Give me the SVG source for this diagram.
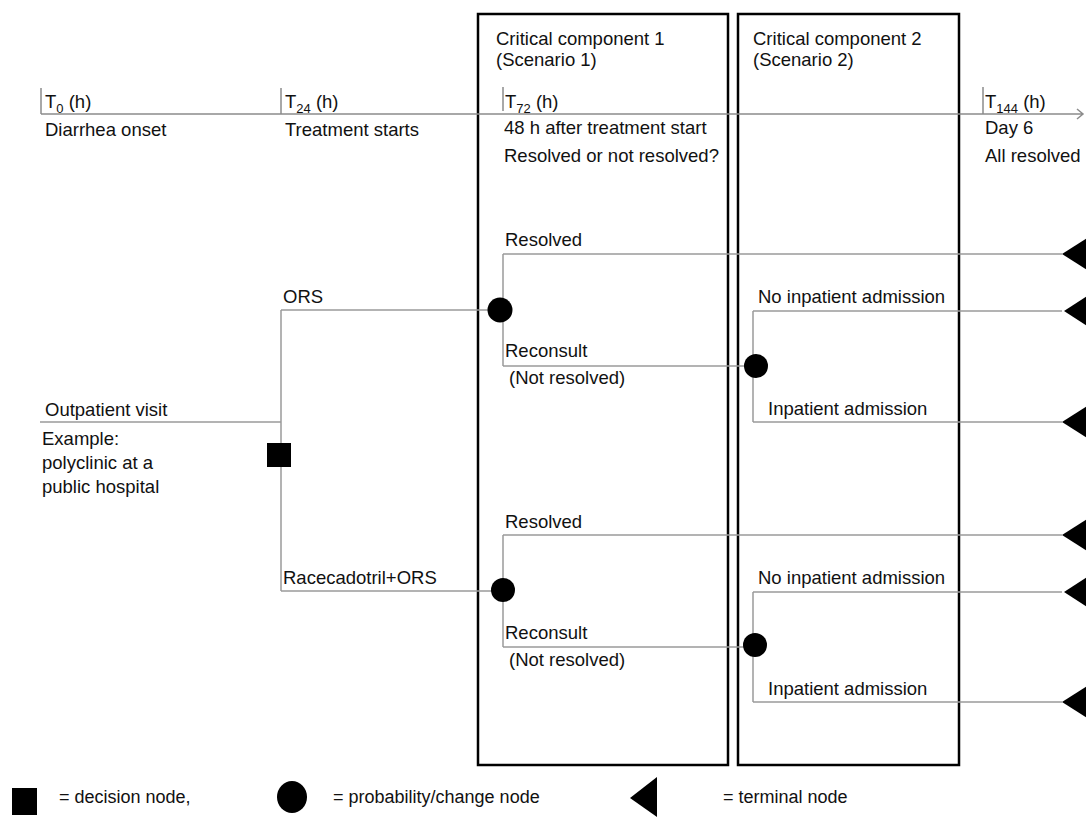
<svg xmlns="http://www.w3.org/2000/svg" width="1086" height="817" viewBox="0 0 1086 817">
<style>
text{font-family:"Liberation Sans",Arial,Helvetica,sans-serif;font-size:18.5px;fill:#111}
.sub{font-size:13px}
.lg{font-size:18px}
.ln{stroke:#9a9a9a;stroke-width:1.5;fill:none}
.tl{stroke:#8c8c8c;stroke-width:1.5;fill:none}
.box{fill:none;stroke:#000;stroke-width:2.5}
.nd{fill:#000}
</style>
<rect width="1086" height="817" fill="#fff"/>
<g id="boxes">
<rect class="box" x="478" y="14" width="250" height="751"/>
<rect class="box" x="738" y="14" width="221" height="751"/>
<text x="496" y="45">Critical component 1</text>
<text x="496" y="66">(Scenario 1)</text>
<text x="753" y="45">Critical component 2</text>
<text x="753" y="66">(Scenario 2)</text>
</g>
<g id="timeline">
<path class="tl" d="M41,114 H1083 M1077,109 L1083,114 L1077,119 M41,88 V114 M281,88 V114 M503,87 V111 M983,87 V114"/>
<text x="45" y="108">T<tspan class="sub" dy="5">0</tspan><tspan dy="-5"> (h)</tspan></text>
<text x="285" y="108">T<tspan class="sub" dy="5">24</tspan><tspan dy="-5"> (h)</tspan></text>
<text x="505" y="108">T<tspan class="sub" dy="5">72</tspan><tspan dy="-5"> (h)</tspan></text>
<text x="985" y="108">T<tspan class="sub" dy="5">144</tspan><tspan dy="-5"> (h)</tspan></text>
<text x="45" y="136">Diarrhea onset</text>
<text x="285" y="136">Treatment starts</text>
<text x="504" y="134">48 h after treatment start</text>
<text x="504" y="162">Resolved or not resolved?</text>
<text x="985" y="134">Day 6</text>
<text x="985" y="162">All resolved</text>
</g>
<g id="connectors">
<path class="ln" d="M40,422 H281 M281,310 V591 M281,310 H500 M281,591 H503"/>
<path class="ln" d="M503,254 V366 M503,254 H1062 M503,366 H756"/>
<path class="ln" d="M753,311 V422 M753,311 H1062 M753,422 H1062"/>
<path class="ln" d="M503,535 V647 M503,535 H1062 M503,647 H755"/>
<path class="ln" d="M753,592 V702 M753,592 H1062 M753,702 H1062"/>
<text x="45" y="416">Outpatient visit</text>
<text x="42" y="445">Example:</text>
<text x="42" y="469">polyclinic at a</text>
<text x="42" y="493">public hospital</text>
<text x="283" y="303">ORS</text>
<text x="283" y="584">Racecadotril+ORS</text>
<text x="505" y="246">Resolved</text>
<text x="505" y="357">Reconsult</text>
<text x="509" y="384">(Not resolved)</text>
<text x="505" y="528">Resolved</text>
<text x="505" y="639">Reconsult</text>
<text x="509" y="666">(Not resolved)</text>
<text x="758" y="303">No inpatient admission</text>
<text x="768" y="415">Inpatient admission</text>
<text x="758" y="584">No inpatient admission</text>
<text x="768" y="695">Inpatient admission</text>
</g>
<g id="decision"><rect class="nd" x="267" y="443" width="24" height="24"/></g>
<g id="chance1"><circle class="nd" cx="500" cy="310" r="12.5"/></g>
<g id="chance2"><circle class="nd" cx="756" cy="366" r="12"/></g>
<g id="chance3"><circle class="nd" cx="503" cy="590" r="12"/></g>
<g id="chance4"><circle class="nd" cx="755" cy="645" r="12"/></g>
<g id="terminal1"><polygon class="nd" points="1062,254 1087,238 1087,270"/></g>
<g id="terminal2"><polygon class="nd" points="1064,311 1087,296 1087,326"/></g>
<g id="terminal3"><polygon class="nd" points="1062,422 1087,406 1087,438"/></g>
<g id="terminal4"><polygon class="nd" points="1062,535 1087,519 1087,551"/></g>
<g id="terminal5"><polygon class="nd" points="1064,592 1087,577 1087,607"/></g>
<g id="terminal6"><polygon class="nd" points="1062,702 1087,686 1087,718"/></g>
<g id="legend">
<rect class="nd" x="12" y="788" width="25" height="27"/>
<text class="lg" x="59" y="803">= decision node,</text>
<ellipse class="nd" cx="292" cy="797" rx="15" ry="16"/>
<text class="lg" x="333" y="803">= probability/change node</text>
<polygon class="nd" points="630,798 657,777 657,817"/>
<text class="lg" x="723" y="803">= terminal node</text>
</g>
</svg>
